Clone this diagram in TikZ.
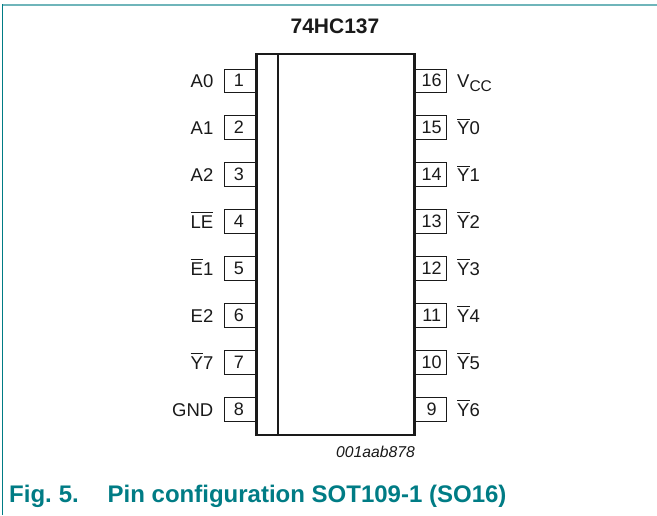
\documentclass[tikz,border=0pt]{standalone}
\usepackage{fontspec}
\setmainfont{Liberation Sans}
\definecolor{nxp}{HTML}{007C85}
\definecolor{nxplight}{HTML}{6FB5BA}
\definecolor{ink}{HTML}{1A1A1A}
\tikzset{
  pinbox/.style={draw=ink,line width=1pt,minimum width=32pt,minimum height=23.4pt,inner sep=0pt,text=ink,font=\fontsize{18}{19}\selectfont,anchor=center},
  pinlabel/.style={inner sep=0pt,text=ink,font=\fontsize{18.5}{19}\selectfont},
  captext/.style={inner sep=0pt,text=nxp,font=\bfseries\fontsize{24}{25}\selectfont,anchor=base west},
}
\newsavebox{\ovlbox}
\newcommand{\ovl}[1]{\sbox{\ovlbox}{#1}\rlap{\raisebox{15.2pt}{\rule{\wd\ovlbox}{0.9pt}}}\usebox{\ovlbox}}
\begin{document}
\begin{tikzpicture}[x=1pt,y=-1pt]
\useasboundingbox (0,0) rectangle (657,515);
\fill[white] (0,0) rectangle (657,515);
\draw[nxplight,line width=2pt] (2,5) -- (657,5);
\draw[nxp,line width=1.1pt] (2.5,4) -- (2.5,515);
\node[inner sep=0pt,text=ink,font=\bfseries\fontsize{21}{22}\selectfont] (title) at (335,26) {74HC137};
\foreach \n/\l [count=\i from 0] in {1/A0,2/A1,3/A2,4/{\ovl{LE}},5/{\ovl{E}1},6/E2,7/{\ovl{Y}7},8/GND}{
  \node[pinbox] (p\n) at (240.5,{80.7+46.95*\i}) {\n\kern3pt};
  \node[pinlabel,anchor=base east] (l\n) at (213.5,{87.7+46.95*\i}) {\l};
}
\foreach \n/\l [count=\i from 0] in {16/{V\raisebox{-4pt}{\fontsize{15.5}{15.5}\selectfont CC}},15/{\ovl{Y}0},14/{\ovl{Y}1},13/{\ovl{Y}2},12/{\ovl{Y}3},11/{\ovl{Y}4},10/{\ovl{Y}5},9/{\ovl{Y}6}}{
  \node[pinbox] (p\n) at (430.5,{80.7+46.95*\i}) {\kern2.4pt\n};
  \node[pinlabel,anchor=base west] (l\n) at (457,{87.7+46.95*\i}) {\l};
}
\draw[ink,line width=2.2pt,fill=white] (256.5,54) rectangle (414.5,435);
\draw[ink,line width=1.2pt] (278,54) -- (278,435);
\node[inner sep=0pt,text=ink,font=\itshape\fontsize{15.7}{16}\selectfont,anchor=east] (code) at (415,452) {001aab878};
\node[captext] (fig) at (9,502.5) {Fig.\kern-2pt{} 5.};
\node[captext] (cap) at (107.5,502.5) {Pin configuration SOT109-1 (SO16)};
\end{tikzpicture}
\end{document}
